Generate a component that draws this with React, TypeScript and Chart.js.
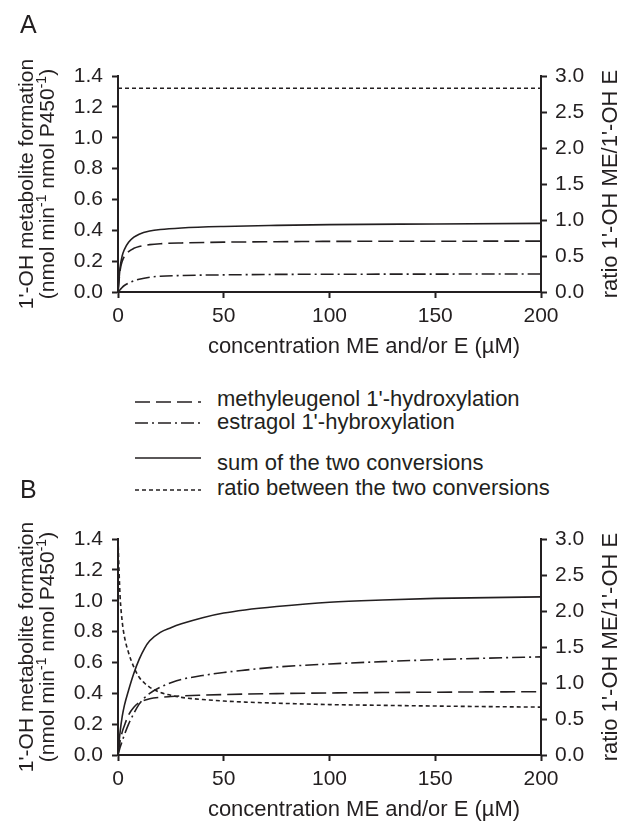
import React, { useEffect, useRef } from "react";
import { Chart, registerables } from "chart.js";

Chart.register(...registerables);

const INK = "#231f20";
const FONT = "'Liberation Sans', Arial, Helvetica, sans-serif";

// ---------- Data: panel A ----------
const concA = [0, 1, 2, 3, 5, 7.5, 10, 15, 20, 30, 50, 75, 100, 150, 200];
const meA = [0, 0.14, 0.2, 0.23, 0.262, 0.283, 0.295, 0.307, 0.313, 0.318, 0.323, 0.326, 0.328, 0.329, 0.33];
const eA = [0, 0.015, 0.03, 0.042, 0.058, 0.072, 0.083, 0.096, 0.102, 0.107, 0.111, 0.114, 0.115, 0.116, 0.117];
const sumA = [0, 0.16, 0.235, 0.275, 0.322, 0.355, 0.375, 0.395, 0.405, 0.415, 0.425, 0.432, 0.437, 0.441, 0.445];
const ratioConcA = [0, 200];
const ratioA = [2.83, 2.83];

// ---------- Data: panel B ----------
const concB = [0, 0.5, 1, 2, 3, 5, 7.5, 10, 12.5, 15, 20, 25, 30, 40, 50, 60, 75, 100, 125, 150, 175, 200];
const sumB = [0, 0.08, 0.15, 0.25, 0.32, 0.42, 0.53, 0.62, 0.69, 0.74, 0.795, 0.825, 0.85, 0.89, 0.92, 0.94, 0.962, 0.99, 1.005, 1.015, 1.02, 1.025];
const meB = [0, 0.05, 0.09, 0.15, 0.19, 0.26, 0.31, 0.34, 0.355, 0.365, 0.374, 0.379, 0.383, 0.388, 0.392, 0.395, 0.398, 0.402, 0.405, 0.407, 0.409, 0.41];
const eB = [0, 0.025, 0.05, 0.09, 0.13, 0.2, 0.27, 0.33, 0.37, 0.4, 0.44, 0.468, 0.49, 0.515, 0.535, 0.55, 0.57, 0.59, 0.605, 0.618, 0.628, 0.636];
const ratioB = [3.0, 2.55, 2.2, 1.85, 1.65, 1.42, 1.22, 1.08, 1.0, 0.94, 0.87, 0.83, 0.8, 0.77, 0.75, 0.735, 0.72, 0.7, 0.69, 0.68, 0.672, 0.665];

// ---------- Ticks & labels ----------
const xTicks = [0, 50, 100, 150, 200];
const leftTicks = [0, 0.2, 0.4, 0.6, 0.8, 1.0, 1.2, 1.4];
const rightTicks = [0, 0.5, 1.0, 1.5, 2.0, 2.5, 3.0];
const xTitle = "concentration ME and/or E (\u00b5M)";
const yTitle1 = "1'-OH metabolite formation";
const yTitle2 = [
  { t: "(nmol min", sup: false },
  { t: "-1", sup: true },
  { t: " nmol P450", sup: false },
  { t: "-1", sup: true },
  { t: ")", sup: false },
];
const y2Title = "ratio 1'-OH ME/1'-OH E";
const legendLabels = [
  "methyleugenol 1'-hydroxylation",
  "estragol 1'-hybroxylation",
  "sum of the two conversions",
  "ratio between the two conversions",
];

const DASH_ME = [15, 6];
const DASH_E = [13, 4, 2, 4];
const DASH_RATIO = [4, 3];
const DASH_SUM: number[] = [];

const pts = (xs: number[], ys: number[]) => xs.map((x, i) => ({ x, y: ys[i] }));

const titlesPlugin = {
  id: "panelTitles",
  afterDraw(chart: any, _args: any, opts: any) {
    const { ctx, chartArea } = chart;
    const { top, bottom } = chartArea;
    const cy = (top + bottom) / 2;
    ctx.save();
    ctx.fillStyle = INK;
    // panel letter
    ctx.font = `25px ${FONT}`;
    ctx.textAlign = "left";
    ctx.textBaseline = "alphabetic";
    ctx.fillText(opts.letter, 20, opts.letterBaseline);
    // x title
    ctx.font = `22px ${FONT}`;
    ctx.textAlign = "center";
    ctx.fillText(xTitle, 364, bottom + 61);
    // left title line 1
    ctx.save();
    ctx.translate(27, cy);
    ctx.rotate(-Math.PI / 2);
    ctx.textBaseline = "middle";
    ctx.textAlign = "center";
    ctx.font = `21px ${FONT}`;
    ctx.fillText(yTitle1, 0, 0);
    ctx.restore();
    // left title line 2 (with superscripts)
    ctx.save();
    ctx.translate(48, cy);
    ctx.rotate(-Math.PI / 2);
    ctx.textBaseline = "middle";
    ctx.textAlign = "left";
    const big = `21px ${FONT}`;
    const small = `14px ${FONT}`;
    let total = 0;
    for (const s of yTitle2) {
      ctx.font = s.sup ? small : big;
      total += ctx.measureText(s.t).width;
    }
    let x = -total / 2;
    for (const s of yTitle2) {
      ctx.font = s.sup ? small : big;
      ctx.fillText(s.t, x, s.sup ? -6 : 0);
      x += ctx.measureText(s.t).width;
    }
    ctx.restore();
    // right title
    ctx.save();
    ctx.translate(611, cy);
    ctx.rotate(-Math.PI / 2);
    ctx.textBaseline = "middle";
    ctx.textAlign = "center";
    ctx.font = `22px ${FONT}`;
    ctx.fillText(y2Title, 0, 0);
    ctx.restore();
    ctx.restore();
  },
};

function makeConfig(panel: {
  conc: number[];
  me: number[];
  e: number[];
  sum: number[];
  ratioConc: number[];
  ratio: number[];
  letter: string;
  letterBaseline: number;
  padTop: number;
  padBottom: number;
}) {
  const common = {
    borderColor: INK,
    borderWidth: 1.6,
    pointRadius: 0,
    fill: false,
    cubicInterpolationMode: "monotone" as const,
  };
  const tickFont = { family: FONT, size: 21 };
  const grid = {
    drawOnChartArea: false,
    drawTicks: true,
    tickLength: 6,
    tickWidth: 2,
    tickColor: INK,
  };
  const border = { display: true, color: INK, width: 2 };
  return {
    type: "line" as const,
    data: {
      datasets: [
        { ...common, label: legendLabels[0], data: pts(panel.conc, panel.me), borderDash: DASH_ME, yAxisID: "y" },
        { ...common, label: legendLabels[1], data: pts(panel.conc, panel.e), borderDash: DASH_E, yAxisID: "y" },
        { ...common, label: legendLabels[2], data: pts(panel.conc, panel.sum), borderDash: DASH_SUM, yAxisID: "y" },
        { ...common, label: legendLabels[3], data: pts(panel.ratioConc, panel.ratio), borderDash: DASH_RATIO, yAxisID: "y2" },
      ],
    },
    options: {
      animation: false,
      responsive: false,
      maintainAspectRatio: false,
      layout: { padding: { top: panel.padTop, bottom: panel.padBottom, left: 0, right: 0 } },
      plugins: {
        legend: { display: false },
        tooltip: { enabled: false },
        panelTitles: { letter: panel.letter, letterBaseline: panel.letterBaseline },
      },
      scales: {
        x: {
          type: "linear",
          min: 0,
          max: 200,
          afterBuildTicks: (s: any) => {
            s.ticks = xTicks.map((v) => ({ value: v }));
          },
          afterFit: (s: any) => {
            s.height = 40;
          },
          ticks: { font: tickFont, color: INK, padding: 6, maxRotation: 0, autoSkip: false },
          grid,
          border,
        },
        y: {
          position: "left",
          min: 0,
          max: 1.4,
          afterBuildTicks: (s: any) => {
            s.ticks = leftTicks.map((v) => ({ value: v }));
          },
          afterFit: (s: any) => {
            s.width = 118;
          },
          ticks: { font: tickFont, color: INK, padding: 9, callback: (v: any) => Number(v).toFixed(1) },
          grid,
          border,
        },
        y2: {
          position: "right",
          min: 0,
          max: 3,
          afterBuildTicks: (s: any) => {
            s.ticks = rightTicks.map((v) => ({ value: v }));
          },
          afterFit: (s: any) => {
            s.width = 81;
          },
          ticks: { font: tickFont, color: INK, padding: 8, callback: (v: any) => Number(v).toFixed(1) },
          grid,
          border,
        },
      },
    },
    plugins: [titlesPlugin],
  };
}

function Panel(props: { top: number; height: number; cfg: any }) {
  const ref = useRef<HTMLCanvasElement>(null);
  useEffect(() => {
    const chart = new Chart(ref.current as HTMLCanvasElement, props.cfg);
    return () => chart.destroy();
  }, []);
  return (
    <canvas
      ref={ref}
      width={622}
      height={props.height}
      style={{ position: "absolute", left: 0, top: props.top, width: 622, height: props.height }}
    />
  );
}

const legendRows = [
  { label: legendLabels[0], dash: DASH_ME, ly: 402, ty: 406 },
  { label: legendLabels[1], dash: DASH_E, ly: 423, ty: 429 },
  { label: legendLabels[2], dash: DASH_SUM, ly: 458, ty: 470 },
  { label: legendLabels[3], dash: DASH_RATIO, ly: 490, ty: 495 },
];

function Legend() {
  const top = 380;
  return (
    <svg width={622} height={125} style={{ position: "absolute", left: 0, top }}>
      {legendRows.map((r, i) => (
        <g key={i}>
          <line
            x1={135}
            x2={201}
            y1={r.ly - top}
            y2={r.ly - top}
            stroke={INK}
            strokeWidth={1.6}
            strokeDasharray={r.dash.length ? r.dash.join(" ") : undefined}
          />
          <text x={217} y={r.ty - top} fill={INK} fontFamily={FONT} fontSize={22}>
            {r.label}
          </text>
        </g>
      ))}
    </svg>
  );
}

export default function App() {
  const cfgA = makeConfig({
    conc: concA, me: meA, e: eA, sum: sumA, ratioConc: ratioConcA, ratio: ratioA,
    letter: "A", letterBaseline: 33, padTop: 76, padBottom: 48,
  });
  const cfgB = makeConfig({
    conc: concB, me: meB, e: eB, sum: sumB, ratioConc: concB, ratio: ratioB,
    letter: "B", letterBaseline: 498 - 463, padTop: 76, padBottom: 28,
  });
  return (
    <div style={{ position: "absolute", left: 0, top: 0, width: 622, height: 823, background: "#fff" }}>
      <Panel top={0} height={380} cfg={cfgA} />
      <Legend />
      <Panel top={463} height={360} cfg={cfgB} />
    </div>
  );
}
